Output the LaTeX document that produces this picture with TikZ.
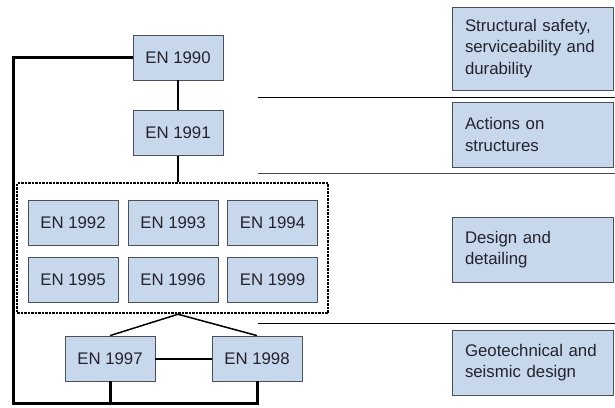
\documentclass[tikz,border=0pt]{standalone}
\usepackage{fontspec}
\setmainfont{Liberation Sans}
\usepackage{tikz}
\usetikzlibrary{positioning,calc}

\definecolor{boxfill}{RGB}{200,216,236}
\definecolor{boxline}{RGB}{75,80,90}
\definecolor{inkcol}{RGB}{35,35,45}

\begin{document}
\begin{tikzpicture}[x=1pt,y=-1pt,on grid,
    font=\fontsize{16.8}{21.5}\selectfont,text=inkcol]

  \tikzset{
    enbox/.style={draw=boxline,fill=boxfill,line width=0.8pt,
      minimum width=90pt,minimum height=45pt,inner sep=0pt},
    catbox/.style={draw=boxline,fill=boxfill,line width=0.8pt,
      text width=135pt,inner xsep=13pt,inner ysep=0pt,align=left,
      minimum height=65pt},
    groupbox/.style={draw=black,line width=2.5pt,dash pattern=on 2.5pt off 1pt,
      minimum width=311pt,minimum height=130pt,inner sep=0pt},
    link/.style={line width=2pt},
  }

  \useasboundingbox (0,0) rectangle (615,407);

   \node[enbox] (en1990) at (178,57.5) {EN 1990};
   \node[enbox] (en1991) [below=75.5pt of en1990] {EN 1991};
   \path[link] (en1990) edge (en1991);

   \node[groupbox] (design) at (172.5,248) {};
   \draw[link] (en1991.south) -- (en1991.south |- design.north);

   \node[enbox] (en1992) at (73,222.5) {EN 1992};
   \node[enbox] (en1993) [right=100pt of en1992] {EN 1993};
   \node[enbox] (en1994) [right=99.5pt of en1993] {EN 1994};
   \node[enbox] (en1995) [below=57.5pt of en1992] {EN 1995};
   \node[enbox] (en1996) [below=57.5pt of en1993] {EN 1996};
   \node[enbox] (en1999) [below=57.5pt of en1994] {EN 1999};

   \node[enbox] (en1997) at (110,358.5) {EN 1997};
   \node[enbox] (en1998) [right=147pt of en1997] {EN 1998};
   \coordinate (apex) at (en1991.south |- design.south);
   \draw[line width=1.5pt] (en1997.north) -- (apex) -- (en1998.north);
   \path[link] (en1997) edge (en1998);

   % feedback loop round the left
   \coordinate (corner) at (13,403);
   \draw[line width=3pt] (en1990.west) -| (corner) -| (en1998.south);
   \draw[line width=3pt] (en1997.south) -- (en1997.south |- corner);

   % category column
   \node[catbox,minimum height=83pt] (safety) at (532.5,48.5)
     {Structural safety,\\serviceability and\\durability};
   \node[catbox] (actions) at (532.5,134.5) {Actions on\\structures};
   \node[catbox] (detail) at (532.5,249.5) {Design and\\detailing};
   \node[catbox] (geo) at (532.5,362.5) {Geotechnical and\\seismic design};

   \draw[line width=0.9pt] (258,97) -- (615,97);
   \draw[line width=0.9pt,black!70] (258,173) -- (615,173);
   \draw[line width=0.9pt] (258,323) -- (615,323);

\end{tikzpicture}
\end{document}
